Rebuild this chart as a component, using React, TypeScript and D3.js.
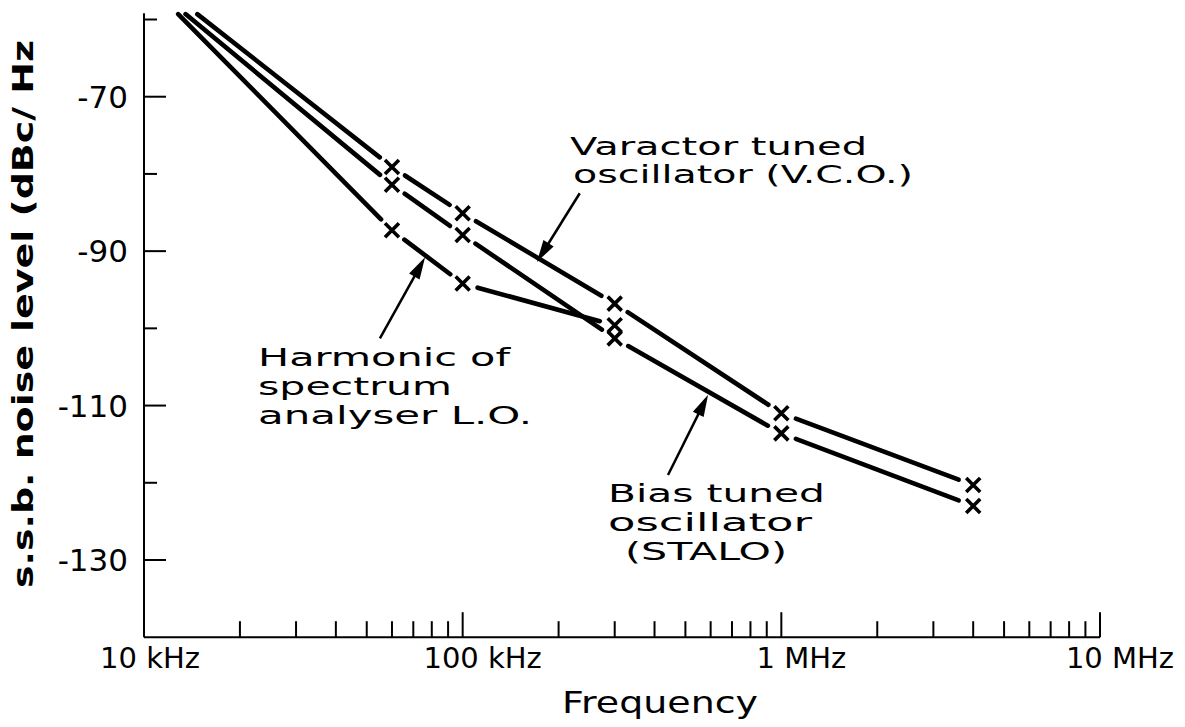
import React from 'react';
import * as d3 from 'd3';

// ---- Data ----
const freqMajorTicks = [1e4, 1e5, 1e6, 1e7];
const freqTickLabels = ['10 kHz', '100 kHz', '1 MHz', '10 MHz'];
const levelTicks = [-60, -70, -80, -90, -100, -110, -120, -130];
const levelLabelledTicks = [-70, -90, -110, -130];

// first point of each series is where the curve enters at the top of the plot (no marker)
const vcoFreq = [14.7e3, 60e3, 100e3, 300e3, 1e6, 4e6];
const vcoLevel = [-59.3, -79.1, -85.1, -96.8, -111.0, -120.3];
const staloFreq = [13.5e3, 60e3, 100e3, 300e3, 1e6, 4e6];
const staloLevel = [-59.3, -81.4, -87.9, -101.3, -113.6, -123.0];
const harmFreq = [12.8e3, 60e3, 100e3, 300e3];
const harmLevel = [-59.3, -87.3, -94.2, -99.6];

const xTitle = 'Frequency';
const yTitle = 's.s.b.  noise  level  (dBc/ Hz';

// annotation arrows in data space: [tailFreq, tailLevel, tipFreq, tipLevel]
const vcoArrow = [233e3, -82.5, 171e3, -91.4];
const harmArrow = [55e3, -101.3, 76.2e3, -90.8];
const staloArrow = [441e3, -119.0, 589e3, -108.6];

const vcoText = ['Varactor tuned', 'oscillator (V.C.O.)'];
const harmText = ['Harmonic of', 'spectrum', 'analyser L.O.'];
const staloText = ['Bias tuned', 'oscillator', '(STALO)'];

const FONT = '"DejaVu Sans", sans-serif';

export default function App() {
  const x = d3.scaleLog().domain([1e4, 1e7]).range([144, 1100]);
  const y = d3.scaleLinear().domain([-140, -60]).range([637.2, 19.5]);

  const minorFreqTicks: number[] = [];
  for (const dec of [1e4, 1e5, 1e6]) for (let k = 2; k <= 9; k++) minorFreqTicks.push(dec * k);

  const series = [
    { f: vcoFreq, v: vcoLevel },
    { f: staloFreq, v: staloLevel },
    { f: harmFreq, v: harmLevel },
  ];

  const GAP = 15.5;
  const M = 7;
  const segs: { x1: number; y1: number; x2: number; y2: number }[] = [];
  const markers: { cx: number; cy: number }[] = [];
  series.forEach((s) => {
    const pts = s.f.map((f, i) => [x(f), y(s.v[i])]);
    pts.forEach((p, i) => { if (i > 0) markers.push({ cx: p[0], cy: p[1] }); });
    for (let i = 0; i < pts.length - 1; i++) {
      const [ax, ay] = pts[i];
      const [bx, by] = pts[i + 1];
      const len = Math.hypot(bx - ax, by - ay);
      const ux = (bx - ax) / len, uy = (by - ay) / len;
      const s0 = i > 0 ? GAP : 0;
      const s1 = GAP;
      segs.push({ x1: ax + ux * s0, y1: ay + uy * s0, x2: bx - ux * s1, y2: by - uy * s1 });
    }
  });

  const arrow = (a: number[], key: string) => {
    const tx = x(a[0]), ty = y(a[1]), hx = x(a[2]), hy = y(a[3]);
    const len = Math.hypot(hx - tx, hy - ty);
    const ux = (hx - tx) / len, uy = (hy - ty) / len;
    const HL = 22, HW = 6;
    const bx = hx - ux * HL, by = hy - uy * HL;
    const px = -uy, py = ux;
    return (
      <g key={key}>
        <line x1={tx} y1={ty} x2={bx + ux * 2} y2={by + uy * 2} stroke="#000" strokeWidth={2.5} />
        <polygon
          points={`${hx},${hy} ${bx + px * HW},${by + py * HW} ${bx - px * HW},${by - py * HW}`}
          fill="#000"
        />
      </g>
    );
  };

  const xr = x.range();
  return (
    <svg width={1185} height={727} style={{ position: 'absolute', left: 0, top: 0, background: '#fff' }}
      fontFamily={FONT}>
      {/* axes */}
      <line x1={xr[0]} y1={y(-140)} x2={xr[1]} y2={y(-140)} stroke="#000" strokeWidth={2} />
      <line x1={xr[0]} y1={y(-140)} x2={xr[0]} y2={y(-59.2)} stroke="#000" strokeWidth={2} />

      {/* y ticks */}
      {levelTicks.map((t) => {
        const major = levelLabelledTicks.includes(t);
        return <line key={'yt' + t} x1={xr[0]} x2={xr[0] + (major ? 22 : 13)} y1={y(t)} y2={y(t)} stroke="#000" strokeWidth={2} />;
      })}
      {levelLabelledTicks.map((t) => (
        <text key={'yl' + t} x={128} y={y(t) + 11} textAnchor="end" fontSize={31}>{String(t)}</text>
      ))}

      {/* x ticks */}
      {minorFreqTicks.map((t) => (
        <line key={'xm' + t} x1={x(t)} x2={x(t)} y1={y(-140)} y2={y(-140) - 16} stroke="#000" strokeWidth={2} />
      ))}
      {freqMajorTicks.slice(1).map((t) => (
        <line key={'xM' + t} x1={x(t)} x2={x(t)} y1={y(-140)} y2={y(-140) - 25} stroke="#000" strokeWidth={2} />
      ))}
      {freqMajorTicks.map((t, i) => (
        <text key={'xl' + t} x={x(t) + (i === 0 ? 6 : 20)} y={668} textAnchor="middle" fontSize={29}>{freqTickLabels[i]}</text>
      ))}

      {/* titles */}
      <text x={660} y={713} textAnchor="middle" fontSize={30} textLength={196} lengthAdjust="spacingAndGlyphs">{xTitle}</text>
      <text transform="translate(33,314) rotate(-90)" textAnchor="middle" fontSize={28} fontWeight="bold"
        textLength={548} lengthAdjust="spacingAndGlyphs">{yTitle}</text>

      {/* curves */}
      {segs.map((s, i) => (
        <line key={'s' + i} x1={s.x1} y1={s.y1} x2={s.x2} y2={s.y2} stroke="#000" strokeWidth={4.6} strokeLinecap="round" />
      ))}
      {markers.map((m, i) => (
        <path key={'m' + i} d={`M${m.cx - M},${m.cy - M}L${m.cx + M},${m.cy + M}M${m.cx - M},${m.cy + M}L${m.cx + M},${m.cy - M}`}
          stroke="#000" strokeWidth={3.6} />
      ))}

      {/* annotations */}
      {arrow(vcoArrow, 'a1')}
      {arrow(harmArrow, 'a2')}
      {arrow(staloArrow, 'a3')}

      <g fontSize={25}>
        <text x={570} y={155} textLength={297} lengthAdjust="spacingAndGlyphs">{vcoText[0]}</text>
        <text x={573} y={183} textLength={340} lengthAdjust="spacingAndGlyphs">{vcoText[1]}</text>

        <text x={258} y={366} textLength={252} lengthAdjust="spacingAndGlyphs">{harmText[0]}</text>
        <text x={258} y={395} textLength={194} lengthAdjust="spacingAndGlyphs">{harmText[1]}</text>
        <text x={258} y={424} textLength={274} lengthAdjust="spacingAndGlyphs">{harmText[2]}</text>

        <text x={608} y={502} textLength={217} lengthAdjust="spacingAndGlyphs">{staloText[0]}</text>
        <text x={608} y={531} textLength={204} lengthAdjust="spacingAndGlyphs">{staloText[1]}</text>
        <text x={625} y={560} textLength={162} lengthAdjust="spacingAndGlyphs">{staloText[2]}</text>
      </g>
    </svg>
  );
}
